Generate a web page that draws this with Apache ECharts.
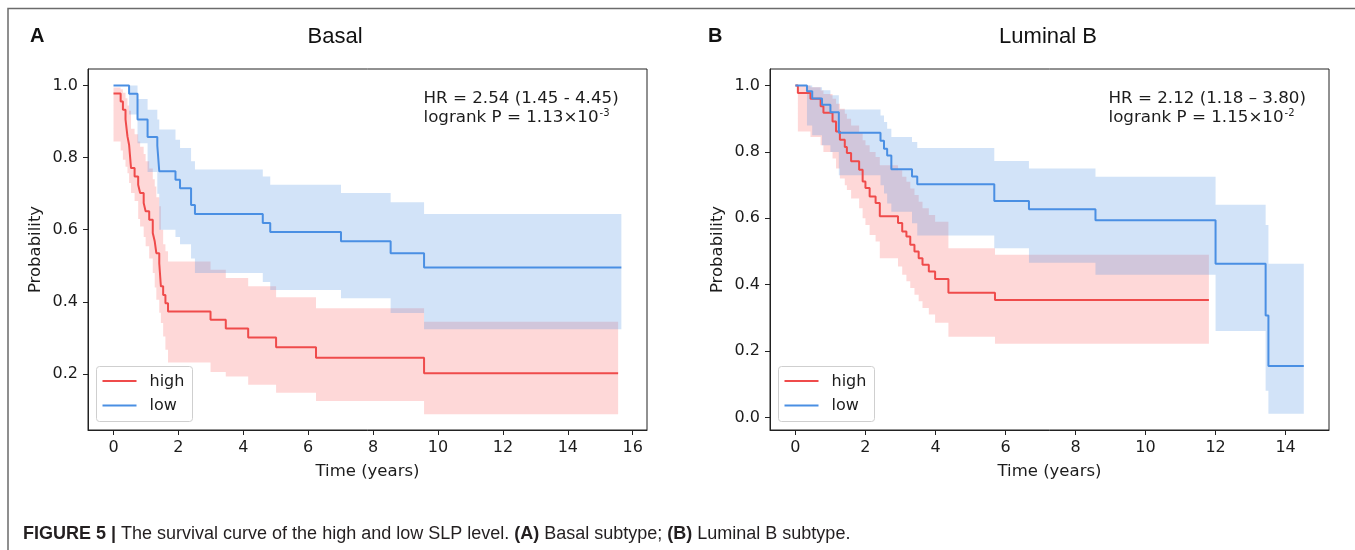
<!DOCTYPE html>
<html>
<head>
<meta charset="utf-8">
<script src="https://cdn.jsdelivr.net/npm/echarts@6/dist/echarts.min.js"></script>
<style>
  html, body { margin: 0; padding: 0; background: #fff; }
  #chart { width: 1355px; height: 550px; }
</style>
</head>
<body>
<div id="chart"></div>
<script>
// ---- Basal subtype: Kaplan-Meier estimates with 95% confidence bands ----
const basalHighTime  = [0, 0.22, 0.29, 0.37, 0.43, 0.48, 0.54, 0.65, 0.76, 0.82, 0.93, 0.99, 1.10, 1.21, 1.27, 1.32, 1.41, 1.46, 1.53, 1.60, 1.68, 2.99, 3.46, 4.15, 5.01, 6.24, 9.57, 15.55];
const basalHighSurv  = [0.978, 0.956, 0.933, 0.906, 0.859, 0.836, 0.771, 0.748, 0.725, 0.702, 0.674, 0.651, 0.628, 0.591, 0.568, 0.535, 0.507, 0.443, 0.419, 0.396, 0.373, 0.350, 0.326, 0.301, 0.274, 0.245, 0.202, 0.202];
const basalHighUpper = [0.995, 0.99, 0.98, 0.965, 0.945, 0.93, 0.88, 0.865, 0.845, 0.83, 0.81, 0.79, 0.77, 0.74, 0.72, 0.69, 0.665, 0.60, 0.56, 0.54, 0.512, 0.489, 0.466, 0.443, 0.413, 0.382, 0.345, 0.345];
const basalHighLower = [0.845, 0.82, 0.794, 0.775, 0.757, 0.73, 0.702, 0.68, 0.63, 0.609, 0.58, 0.554, 0.52, 0.48, 0.44, 0.406, 0.37, 0.341, 0.304, 0.267, 0.232, 0.205, 0.193, 0.17, 0.148, 0.125, 0.088, 0.088];

const basalLowTime  = [0, 0.48, 0.74, 1.05, 1.35, 1.41, 1.91, 2.05, 2.39, 2.51, 4.60, 4.83, 7.01, 8.54, 9.57, 15.65];
const basalLowSurv  = [1.0, 0.977, 0.906, 0.857, 0.833, 0.762, 0.739, 0.715, 0.669, 0.644, 0.619, 0.594, 0.568, 0.535, 0.495, 0.495];
const basalLowUpper = [1.0, 1.0, 0.963, 0.933, 0.906, 0.878, 0.850, 0.827, 0.790, 0.767, 0.748, 0.725, 0.702, 0.676, 0.644, 0.644];
const basalLowLower = [1.0, 0.92, 0.84, 0.76, 0.70, 0.600, 0.58, 0.56, 0.52, 0.48, 0.455, 0.433, 0.41, 0.369, 0.324, 0.324];

// ---- Luminal B subtype ----
const lumHighTime  = [0, 0.07, 0.43, 0.72, 0.80, 1.06, 1.16, 1.27, 1.41, 1.47, 1.59, 1.82, 1.92, 2.00, 2.12, 2.29, 2.41, 2.93, 3.05, 3.17, 3.28, 3.40, 3.52, 3.63, 3.81, 3.99, 4.37, 5.70, 11.81];
const lumHighSurv  = [1.0, 0.978, 0.960, 0.938, 0.918, 0.892, 0.862, 0.837, 0.815, 0.797, 0.772, 0.746, 0.711, 0.691, 0.666, 0.646, 0.606, 0.586, 0.560, 0.545, 0.520, 0.500, 0.480, 0.460, 0.440, 0.417, 0.376, 0.354, 0.354];
const lumHighUpper = [1.0, 1.0, 0.995, 0.985, 0.975, 0.96, 0.945, 0.93, 0.915, 0.90, 0.88, 0.86, 0.835, 0.82, 0.80, 0.785, 0.76, 0.745, 0.725, 0.71, 0.69, 0.67, 0.65, 0.63, 0.61, 0.59, 0.51, 0.49, 0.49];
const lumHighLower = [1.0, 0.862, 0.845, 0.82, 0.80, 0.78, 0.75, 0.72, 0.70, 0.685, 0.66, 0.63, 0.60, 0.58, 0.55, 0.53, 0.48, 0.455, 0.43, 0.41, 0.39, 0.37, 0.35, 0.33, 0.31, 0.285, 0.243, 0.222, 0.222];

const lumLowTime  = [0, 0.33, 0.48, 0.76, 1.00, 1.24, 2.43, 2.53, 2.62, 2.74, 3.33, 3.48, 5.68, 6.67, 8.57, 12.00, 13.43, 13.51, 14.52];
const lumLowSurv  = [1.0, 0.983, 0.961, 0.942, 0.920, 0.858, 0.834, 0.810, 0.789, 0.748, 0.726, 0.703, 0.652, 0.627, 0.594, 0.463, 0.307, 0.155, 0.155];
const lumLowUpper = [1.0, 1.0, 0.995, 0.986, 0.971, 0.928, 0.91, 0.89, 0.87, 0.845, 0.83, 0.812, 0.773, 0.75, 0.725, 0.641, 0.58, 0.463, 0.463];
const lumLowLower = [1.0, 0.88, 0.85, 0.82, 0.80, 0.73, 0.70, 0.675, 0.645, 0.62, 0.585, 0.548, 0.51, 0.466, 0.43, 0.26, 0.08, 0.011, 0.011];

// ---- axis ticks and labels ----
const basalXTicks = [0, 2, 4, 6, 8, 10, 12, 14, 16];
const basalYTicks = [0.2, 0.4, 0.6, 0.8, 1.0];
const lumXTicks = [0, 2, 4, 6, 8, 10, 12, 14];
const lumYTicks = [0.0, 0.2, 0.4, 0.6, 0.8, 1.0];
const groupNames = ['high', 'low'];
const panelTitles = ['Basal', 'Luminal B'];
const hrTexts = ['HR = 2.54 (1.45 - 4.45)', 'HR = 2.12 (1.18 \u2013 3.80)'];
const pMantissa = ['1.13', '1.15'];
const pExponent = ['-3', '-2'];

const RED = '#ef4b4b';
const BLUE = '#4a8fe3';
const RED_FILL = 'rgba(250, 90, 90, 0.24)';
const BLUE_FILL = 'rgba(74, 144, 226, 0.25)';
const FONT = "'DejaVu Sans', sans-serif";
const SANS = "'Liberation Sans', Arial, sans-serif";
const INK = '#1c1c1c';

// step-shaped confidence band drawn as a polygon through the axis scales
function bandSeries(idx, t, lo, hi, fill) {
  return {
    type: 'custom',
    xAxisIndex: idx, yAxisIndex: idx,
    silent: true, clip: true, z: 1,
    data: [[t[0], hi[0]]],
    renderItem: function (params, api) {
      const pts = [];
      for (let i = 0; i < t.length; i++) {
        pts.push(api.coord([t[i], hi[i]]));
        if (i < t.length - 1) pts.push(api.coord([t[i + 1], hi[i]]));
      }
      for (let i = t.length - 1; i >= 0; i--) {
        if (i < t.length - 1) pts.push(api.coord([t[i + 1], lo[i]]));
        pts.push(api.coord([t[i], lo[i]]));
      }
      return { type: 'polygon', shape: { points: pts }, style: { fill: fill, stroke: null } };
    }
  };
}

function curveSeries(idx, name, t, s, color) {
  return {
    type: 'line', name: name, step: 'end',
    xAxisIndex: idx, yAxisIndex: idx,
    data: t.map((x, i) => [x, s[i]]),
    showSymbol: false, symbol: 'none', silent: true, z: 3,
    lineStyle: { color: color, width: 2 },
    itemStyle: { color: color }
  };
}

function xAxisFor(idx, min, max, ticks) {
  return {
    type: 'value', gridIndex: idx, min: min, max: max,
    axisLine: { show: true, onZero: false, lineStyle: { color: '#222', width: 1 } },
    axisTick: { show: true, inside: false, length: 5, customValues: ticks, lineStyle: { color: '#222', width: 1 } },
    axisLabel: { customValues: ticks, margin: 10, color: INK, fontFamily: FONT, fontSize: 16,
      formatter: v => String(Math.round(v)) },
    splitLine: { show: false },
    name: 'Time (years)', nameLocation: 'middle', nameGap: 33,
    nameTextStyle: { color: INK, fontFamily: FONT, fontSize: 16.5 }
  };
}

function yAxisFor(idx, min, max, ticks) {
  return {
    type: 'value', gridIndex: idx, min: min, max: max,
    axisLine: { show: true, onZero: false, lineStyle: { color: '#222', width: 1 } },
    axisTick: { show: true, inside: false, length: 5, customValues: ticks, lineStyle: { color: '#222', width: 1 } },
    axisLabel: { customValues: ticks, margin: 10, color: INK, fontFamily: FONT, fontSize: 16,
      formatter: v => v.toFixed(1) },
    splitLine: { show: false },
    name: 'Probability', nameLocation: 'middle', nameGap: 44,
    nameTextStyle: { color: INK, fontFamily: FONT, fontSize: 16.5 }
  };
}

function legendGraphics(x, y) {
  return [
    { type: 'rect', shape: { x: x, y: y, width: 96, height: 55, r: 3 },
      style: { fill: 'rgba(255,255,255,0.85)', stroke: '#cfcfcf', lineWidth: 1 }, z: 10 },
    { type: 'line', shape: { x1: x + 6, y1: y + 14.5, x2: x + 40, y2: y + 14.5 },
      style: { stroke: RED, lineWidth: 2 }, z: 11 },
    { type: 'text', x: x + 53, y: y + 15, z: 11,
      style: { text: groupNames[0], fill: INK, font: '16px ' + FONT, verticalAlign: 'middle' } },
    { type: 'line', shape: { x1: x + 6, y1: y + 39, x2: x + 40, y2: y + 39 },
      style: { stroke: BLUE, lineWidth: 2 }, z: 11 },
    { type: 'text', x: x + 53, y: y + 39, z: 11,
      style: { text: groupNames[1], fill: INK, font: '16px ' + FONT, verticalAlign: 'middle' } }
  ];
}

function statGraphics(k, x) {
  return [
    { type: 'text', x: x, y: 99, z: 11,
      style: { text: hrTexts[k], fill: INK, font: '16.7px ' + FONT, verticalAlign: 'middle' } },
    { type: 'text', x: x, y: 118, z: 11,
      style: {
        text: '{n|logrank P = ' + pMantissa[k] + '\u00d710}{s|' + pExponent[k] + '}',
        verticalAlign: 'middle',
        rich: {
          n: { fill: INK, fontFamily: FONT, fontSize: 16.7, lineHeight: 20, verticalAlign: 'middle' },
          s: { fill: INK, fontFamily: FONT, fontSize: 10, lineHeight: 20, verticalAlign: 'top', padding: [0, 0, 0, 1] }
        }
      } }
  ];
}

const chart = echarts.init(document.getElementById('chart'), null, { renderer: 'canvas' });

chart.setOption({
  backgroundColor: '#ffffff',
  animation: false,
  grid: [
    { left: 88, top: 69, width: 559, height: 361, show: true, borderColor: '#222', borderWidth: 1, backgroundColor: 'transparent' },
    { left: 770, top: 69, width: 559, height: 361, show: true, borderColor: '#222', borderWidth: 1, backgroundColor: 'transparent' }
  ],
  xAxis: [
    xAxisFor(0, -0.786, 16.44, basalXTicks),
    xAxisFor(1, -0.726, 15.24, lumXTicks)
  ],
  yAxis: [
    yAxisFor(0, 0.0444, 1.046, basalYTicks),
    yAxisFor(1, -0.038, 1.05, lumYTicks)
  ],
  series: [
    bandSeries(0, basalHighTime, basalHighLower, basalHighUpper, RED_FILL),
    bandSeries(0, basalLowTime, basalLowLower, basalLowUpper, BLUE_FILL),
    curveSeries(0, groupNames[0], basalHighTime, basalHighSurv, RED),
    curveSeries(0, groupNames[1], basalLowTime, basalLowSurv, BLUE),
    bandSeries(1, lumHighTime, lumHighLower, lumHighUpper, RED_FILL),
    bandSeries(1, lumLowTime, lumLowLower, lumLowUpper, BLUE_FILL),
    curveSeries(1, groupNames[0], lumHighTime, lumHighSurv, RED),
    curveSeries(1, groupNames[1], lumLowTime, lumLowSurv, BLUE)
  ],
  graphic: [
    // figure frame (top and left edges)
    { type: 'polyline', shape: { points: [[8, 550], [8, 8.5], [1355, 8.5]] },
      style: { stroke: '#6b6b6b', lineWidth: 1.5, fill: null }, z: 0 },
    // panel letters and titles
    { type: 'text', x: 30, y: 36, style: { text: 'A', fill: '#111', font: 'bold 20px ' + SANS, verticalAlign: 'middle' } },
    { type: 'text', x: 708, y: 36, style: { text: 'B', fill: '#111', font: 'bold 20px ' + SANS, verticalAlign: 'middle' } },
    { type: 'text', x: 335, y: 37, style: { text: panelTitles[0], fill: '#111', font: '22px ' + SANS, align: 'center', verticalAlign: 'middle' } },
    { type: 'text', x: 1048, y: 37, style: { text: panelTitles[1], fill: '#111', font: '22px ' + SANS, align: 'center', verticalAlign: 'middle' } },
    ...statGraphics(0, 423.5),
    ...statGraphics(1, 1108.5),
    ...legendGraphics(96.5, 366.5),
    ...legendGraphics(778.5, 366.5),
    // figure caption
    { type: 'text', x: 23, y: 534, style: {
        text: '{b|FIGURE 5 |} The survival curve of the high and low SLP level. {b|(A)} Basal subtype; {b|(B)} Luminal B subtype.',
        verticalAlign: 'middle',
        rich: {
          b: { fontFamily: SANS, fontSize: 18, fontWeight: 'bold', fill: '#231f20' }
        },
        fontFamily: SANS, fontSize: 18, fill: '#231f20'
      } }
  ]
});
</script>
</body>
</html>
